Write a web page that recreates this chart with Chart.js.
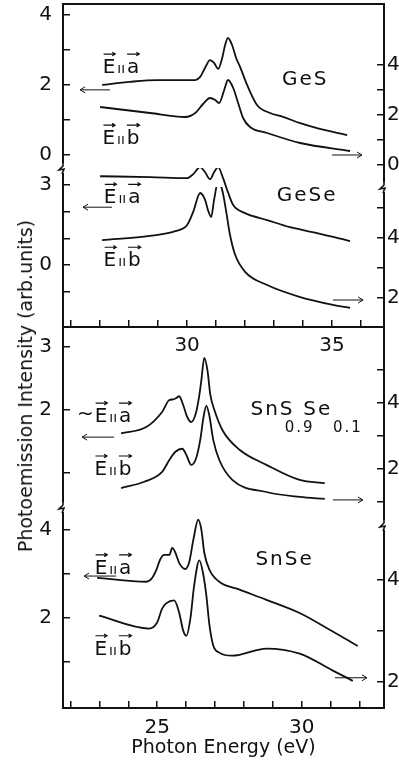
<!DOCTYPE html>
<html>
<head>
<meta charset="utf-8">
<script src="https://cdn.jsdelivr.net/npm/chart.js@4.4.1/dist/chart.umd.min.js"></script>
<style>
  body { margin: 0; background: #fff; }
  #wrap { position: relative; width: 399px; height: 765px; overflow: hidden; }
  canvas { position: absolute; left: 0; }
  #topChart { top: 0; z-index: 2; }
  #botChart { top: 300px; z-index: 1; }
  #ytitle {
    position: absolute; left: 25px; top: 386px; z-index: 3;
    transform: translate(-50%, -50%) rotate(-90deg);
    white-space: nowrap; font: 19px 'DejaVu Sans'; color: #111;
  }
</style>
</head>
<body>
<div id="wrap">
  <canvas id="topChart" width="399" height="365"></canvas>
  <canvas id="botChart" width="399" height="465"></canvas>
  <div id="ytitle">Photoemission Intensity (arb.units)</div>
</div>
<script>
// photon energy (eV), intensity (arb. units)
const gesA = [[27.07,2.0],[28.03,2.09],[28.97,2.14],[30.28,2.14],[30.45,2.23],[30.62,2.49],[30.79,2.71],[30.93,2.63],[31.07,2.46],[31.21,2.77],[31.31,3.14],[31.41,3.34],[31.55,3.14],[31.69,2.77],[31.83,2.51],[32.07,2.0],[32.41,1.43],[32.86,1.2],[33.31,1.09],[33.9,0.91],[34.48,0.77],[35.52,0.57]];
const gesB = [[27.0,2.32],[28.72,2.08],[29.93,1.92],[30.28,2.08],[30.55,2.44],[30.79,2.68],[30.97,2.6],[31.1,2.48],[31.28,3.0],[31.41,3.4],[31.59,3.08],[31.76,2.48],[31.93,1.88],[32.17,1.52],[32.76,1.28],[33.9,0.88],[35.62,0.56]];
const geseA = [[27.0,3.33],[28.72,3.30],[30.0,3.26],[30.21,3.41],[30.45,3.67],[30.62,3.48],[30.79,3.22],[30.93,3.48],[31.07,3.67],[31.24,3.26],[31.41,2.73],[31.59,2.25],[32.0,1.95],[32.76,1.69],[33.55,1.42],[34.48,1.2],[35.62,0.9]];
const geseB = [[27.07,3.93],[28.72,4.07],[29.59,4.23],[30.0,4.43],[30.21,4.87],[30.45,5.5],[30.62,5.27],[30.72,4.93],[30.83,4.7],[30.93,5.27],[31.07,5.87],[31.21,5.6],[31.34,4.93],[31.48,4.1],[31.66,3.43],[32.0,2.87],[32.76,2.43],[33.9,2.03],[35.03,1.77],[35.62,1.67]];
const snsA = [[23.75,1.63],[24.62,1.73],[25.17,1.97],[25.42,2.16],[25.56,2.17],[25.66,2.19],[25.76,2.22],[25.9,2.08],[26.04,1.89],[26.18,1.81],[26.35,1.97],[26.46,2.24],[26.53,2.48],[26.63,2.83],[26.74,2.63],[26.84,2.24],[26.98,2.0],[27.26,1.68],[27.85,1.37],[28.78,1.13],[29.93,0.89],[30.8,0.84]];
const snsB = [[23.75,1.42],[24.55,1.61],[25.17,1.91],[25.42,2.27],[25.63,2.52],[25.87,2.61],[26.01,2.42],[26.18,2.12],[26.35,2.33],[26.49,2.88],[26.6,3.55],[26.7,3.91],[26.8,3.64],[26.94,2.88],[27.15,2.27],[27.6,1.67],[28.78,1.3],[29.93,1.15],[30.8,1.09]];
const snseA = [[22.92,2.91],[24.62,2.82],[24.83,2.91],[24.97,3.09],[25.1,3.32],[25.24,3.43],[25.42,3.43],[25.52,3.59],[25.63,3.48],[25.76,3.25],[25.97,3.11],[26.11,3.27],[26.25,3.77],[26.42,4.23],[26.53,4.0],[26.63,3.48],[26.81,3.09],[27.15,2.82],[27.85,2.64],[28.78,2.41],[29.93,2.11],[30.97,1.73],[31.94,1.36]];
const snseB = [[22.99,3.29],[24.72,3.04],[25.0,3.16],[25.17,3.43],[25.31,3.53],[25.59,3.59],[25.76,3.35],[25.9,3.0],[26.01,2.9],[26.15,3.24],[26.28,3.88],[26.46,4.37],[26.6,4.08],[26.7,3.69],[26.81,3.1],[26.94,2.71],[27.15,2.57],[27.6,2.51],[28.78,2.65],[29.93,2.55],[31.08,2.22],[31.77,2.02]];

// tick values and which of them carry a label
const topXTicks = [26,27,28,29,30,31,32,33,34,35,36];
const topXLabels = [30,35];
const botXTicks = [22,23,24,25,26,27,28,29,30,31,32];
const botXLabels = [25,30];
const gesLTicks = [0,1,2,3,4], gesLLabels = [0,2,4];
const geseLTicks = [-1,0,1,2,3], geseLLabels = [0,3];
const gesRTicks = [0,1,2,3,4], gesRLabels = [0,2,4];
const geseRTicks = [2,3,4,5], geseRLabels = [2,4];
const snsLTicks = [1,2,3], snsLLabels = [2,3];
const snseLTicks = [1,2,3,4], snseLLabels = [2,4];
const snsRTicks = [1,2,3,4,5], snsRLabels = [2,4];
const snseRTicks = [2,3,4], snseRLabels = [2,4];

const INK = '#111';
const FONT = 'DejaVu Sans';

function xAxis(min, max, ticks, labels, height, pad, title) {
  return {
    type: 'linear', position: 'bottom', min: min, max: max,
    afterBuildTicks: s => { s.ticks = ticks.map(v => ({value: v})); },
    afterFit: s => { s.height = height; s.paddingLeft = 0; s.paddingRight = 0; },
    grid: { drawOnChartArea: false, tickLength: -7, color: INK, lineWidth: 1.5 },
    border: { color: INK, width: 2 },
    ticks: {
      autoSkip: false, maxRotation: 0, padding: pad, color: INK,
      font: { family: FONT, size: 20 },
      callback: v => labels.includes(v) ? String(v) : ''
    },
    title: title ? { display: true, text: title, color: INK,
      font: { family: FONT, size: 19 }, padding: { top: 0, bottom: 6 } } : { display: false }
  };
}

function yAxis(pos, stack, weight, min, max, ticks, labels) {
  return {
    type: 'linear', position: pos, stack: stack, stackWeight: weight, min: min, max: max,
    afterBuildTicks: s => { s.ticks = ticks.map(v => ({value: v})); },
    afterFit: s => { s.width = pos === 'left' ? 63 : 15; s.paddingTop = 0; s.paddingBottom = 0; },
    grid: { drawOnChartArea: false, tickLength: -7, color: INK, lineWidth: 1.5 },
    border: { color: INK, width: 2 },
    ticks: {
      autoSkip: false, padding: pos === 'left' ? 18 : 10, color: INK,
      font: { family: FONT, size: 20 },
      callback: v => labels.includes(v) ? String(v) : ''
    }
  };
}

function curve(points, yId) {
  return {
    data: points.map(p => ({x: p[0], y: p[1]})),
    yAxisID: yId, borderColor: INK, borderWidth: 1.8,
    pointRadius: 0, cubicInterpolationMode: 'monotone', fill: false
  };
}

// little arrow, used above E and a/b and for the axis pointers
function arrow(ctx, x1, x2, y, head) {
  const d = x2 > x1 ? 1 : -1;
  ctx.beginPath();
  ctx.moveTo(x1, y); ctx.lineTo(x2, y);
  ctx.moveTo(x2 - d * head, y - head * 0.6); ctx.lineTo(x2, y); ctx.lineTo(x2 - d * head, y + head * 0.6);
  ctx.stroke();
}

function vecLabel(ctx, cx, cy, letter, prefix) {
  ctx.font = '20px ' + FONT;
  const wE = ctx.measureText('E').width, wl = ctx.measureText(letter).width;
  ctx.font = '14px ' + FONT;
  const wp = ctx.measureText('ıı').width;
  const total = wE + 2 + wp + 2 + wl;
  const x0 = cx - total / 2, base = cy + 7;
  ctx.textAlign = 'left'; ctx.textBaseline = 'alphabetic';
  ctx.font = '20px ' + FONT;
  ctx.fillText('E', x0, base);
  ctx.fillText(letter, x0 + wE + 4 + wp, base);
  if (prefix) { ctx.textAlign = 'right'; ctx.fillText(prefix, x0 - 1, base - 2); ctx.textAlign = 'left'; }
  ctx.font = '14px ' + FONT;
  ctx.fillText('ıı', x0 + wE + 2, base);
  ctx.lineWidth = 1.2;
  arrow(ctx, x0 + 1, x0 + wE, base - 19, 3);
  arrow(ctx, x0 + wE + 4 + wp, x0 + wE + 4 + wp + wl, base - 19, 3);
}

const notesPlugin = {
  id: 'notes',
  afterDraw(chart, args, opts) {
    const ctx = chart.ctx, a = chart.chartArea, sx = chart.scales.x;
    ctx.save();
    ctx.strokeStyle = INK; ctx.fillStyle = INK; ctx.lineWidth = 2;
    ctx.strokeRect(a.left, a.top, a.right - a.left, a.bottom - a.top);
    // axis breaks between stacked scales
    for (const id of opts.breaks) {
      const s = chart.scales[id];
      const x = s.position === 'left' ? a.left : a.right, y = s.bottom;
      ctx.fillStyle = '#fff';
      ctx.fillRect(x - 5, y - 5, 10, 10);
      ctx.fillStyle = INK;
      ctx.lineWidth = 1.6;
      ctx.beginPath();
      ctx.moveTo(x, y - 6); ctx.lineTo(x, y - 2); ctx.lineTo(x - 4, y + 2);
      ctx.lineTo(x + 1, y + 1); ctx.lineTo(x - 1, y + 6);
      ctx.stroke();
    }
    for (const n of opts.notes) {
      const sy = chart.scales[n.ax];
      ctx.strokeStyle = INK; ctx.fillStyle = INK;
      if (n.kind === 'arrow') {
        ctx.lineWidth = 1;
        arrow(ctx, sx.getPixelForValue(n.x1), sx.getPixelForValue(n.x2), sy.getPixelForValue(n.y), 5);
      } else if (n.kind === 'vec') {
        vecLabel(ctx, sx.getPixelForValue(n.x), sy.getPixelForValue(n.y), n.letter, n.prefix);
      } else {
        ctx.font = (n.size || 20) + 'px ' + FONT;
        ctx.letterSpacing = '2px';
        ctx.textAlign = 'center'; ctx.textBaseline = 'middle';
        ctx.fillText(n.text, sx.getPixelForValue(n.x), sy.getPixelForValue(n.y));
        ctx.letterSpacing = '0px';
      }
    }
    ctx.restore();
  }
};

const topNotes = [
  {kind: 'vec', x: 27.72, y: 2.54, ax: 'yGeSL', letter: 'a'},
  {kind: 'vec', x: 27.72, y: 0.51, ax: 'yGeSL', letter: 'b'},
  {kind: 'text', text: 'GeS', x: 34.07, y: 2.14, ax: 'yGeSL'},
  {kind: 'arrow', x1: 27.34, x2: 26.31, y: 1.86, ax: 'yGeSL'},
  {kind: 'arrow', x1: 35.0, x2: 36.03, y: 0.4, ax: 'yGeSR'},
  {kind: 'vec', x: 27.76, y: 2.58, ax: 'yGeSeL', letter: 'a'},
  {kind: 'vec', x: 27.76, y: 0.22, ax: 'yGeSeL', letter: 'b'},
  {kind: 'text', text: 'GeSe', x: 34.14, y: 2.58, ax: 'yGeSeL'},
  {kind: 'arrow', x1: 27.41, x2: 26.41, y: 2.17, ax: 'yGeSeL'},
  {kind: 'arrow', x1: 35.03, x2: 36.07, y: 1.93, ax: 'yGeSeR'}
];

const botNotes = [
  {kind: 'vec', x: 23.47, y: 1.92, ax: 'ySnSL', letter: 'a', prefix: '~'},
  {kind: 'vec', x: 23.47, y: 1.08, ax: 'ySnSL', letter: 'b'},
  {kind: 'arrow', x1: 23.51, x2: 22.4, y: 1.57, ax: 'ySnSL'},
  {kind: 'arrow', x1: 31.08, x2: 32.12, y: 1.06, ax: 'ySnSR'},
  {kind: 'text', text: 'SnS', x: 28.99, y: 2.0, ax: 'ySnSL'},
  {kind: 'text', text: '0.9', x: 29.93, y: 1.71, ax: 'ySnSL', size: 15},
  {kind: 'text', text: 'Se', x: 30.56, y: 2.0, ax: 'ySnSL'},
  {kind: 'text', text: '0.1', x: 31.6, y: 1.71, ax: 'ySnSL', size: 15},
  {kind: 'vec', x: 23.47, y: 3.16, ax: 'ySnSeL', letter: 'a'},
  {kind: 'vec', x: 23.47, y: 1.32, ax: 'ySnSeL', letter: 'b'},
  {kind: 'arrow', x1: 23.58, x2: 22.47, y: 2.95, ax: 'ySnSeL'},
  {kind: 'arrow', x1: 31.15, x2: 32.26, y: 2.08, ax: 'ySnSeR'},
  {kind: 'text', text: 'SnSe', x: 29.41, y: 3.32, ax: 'ySnSeL'}
];

const common = {
  responsive: false, animation: false, devicePixelRatio: 1,
  plugins: { legend: { display: false }, tooltip: { enabled: false } }
};

// left-hand stacks are laid out in reverse order, so the lower panel part comes first
new Chart(document.getElementById('topChart'), {
  type: 'line',
  data: { datasets: [curve(gesA, 'yGeSL'), curve(gesB, 'yGeSR'), curve(geseA, 'yGeSeL'), curve(geseB, 'yGeSeR')] },
  options: Object.assign({}, common, {
    layout: { padding: { top: 4, left: 0, right: 0, bottom: 0 } },
    scales: {
      x: xAxis(25.72, 36.79, topXTicks, topXLabels, 38, 14),
      yGeSeL: yAxis('left', 'L', 159, -2.32, 3.64, geseLTicks, geseLLabels),
      yGeSL: yAxis('left', 'L', 164, -0.37, 4.31, gesLTicks, gesLLabels),
      yGeSR: yAxis('right', 'R', 183, -0.88, 6.44, gesRTicks, gesRLabels),
      yGeSeR: yAxis('right', 'R', 140, 1.03, 5.7, geseRTicks, geseRLabels)
    },
    plugins: Object.assign({}, common.plugins, { notes: { breaks: ['yGeSL', 'yGeSR'], notes: topNotes } })
  }),
  plugins: [notesPlugin]
});

new Chart(document.getElementById('botChart'), {
  type: 'line',
  data: { datasets: [curve(snsA, 'ySnSL'), curve(snsB, 'ySnSR'), curve(snseA, 'ySnSeL'), curve(snseB, 'ySnSeR')] },
  options: Object.assign({}, common, {
    layout: { padding: { top: 27, left: 0, right: 0, bottom: 0 } },
    scales: {
      x: xAxis(21.74, 32.85, botXTicks, botXLabels, 57, 15, 'Photon Energy (eV)'),
      ySnSeL: yAxis('left', 'L', 201, -0.05, 4.52, snseLTicks, snseLLabels),
      ySnSL: yAxis('left', 'L', 180, 0.46, 3.32, snsLTicks, snsLLabels),
      ySnSR: yAxis('right', 'R', 198, 0.3, 6.3, snsRTicks, snsRLabels),
      ySnSeR: yAxis('right', 'R', 183, 1.49, 5.06, snseRTicks, snseRLabels)
    },
    plugins: Object.assign({}, common.plugins, { notes: { breaks: ['ySnSL', 'ySnSR'], notes: botNotes } })
  }),
  plugins: [notesPlugin]
});
</script>
</body>
</html>
